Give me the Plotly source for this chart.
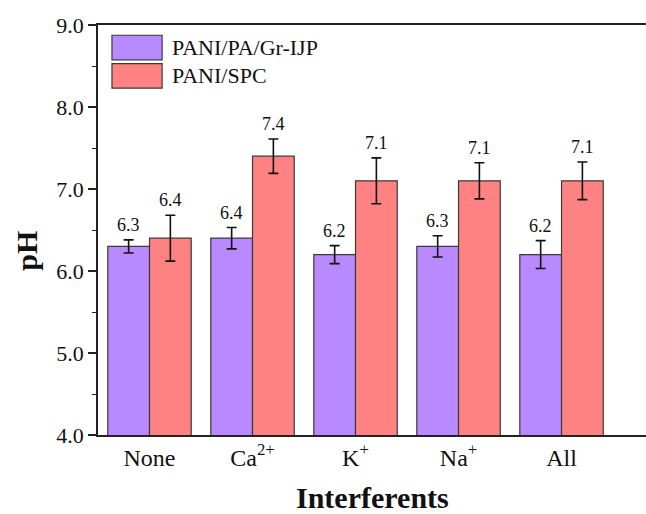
import plotly.graph_objects as go

categories = ["None", "Ca<sup>2+</sup>", "K<sup>+</sup>", "Na<sup>+</sup>", "All"]
series_names = ["PANI/PA/Gr-IJP", "PANI/SPC"]
ijp_values = [6.3, 6.4, 6.2, 6.3, 6.2]
ijp_errors = [0.08, 0.13, 0.11, 0.13, 0.17]
spc_values = [6.4, 7.4, 7.1, 7.1, 7.1]
spc_errors = [0.28, 0.21, 0.28, 0.22, 0.23]
y_ticks = [4.0, 5.0, 6.0, 7.0, 8.0, 9.0]

colors = ["#B98AFF", "#FF8282"]
font_family = "Liberation Serif"
text_color = "#111111"

fig = go.Figure()
for name, vals, errs, col in [(series_names[0], ijp_values, ijp_errors, colors[0]),
                              (series_names[1], spc_values, spc_errors, colors[1])]:
    fig.add_trace(go.Bar(
        x=list(range(len(categories))), y=vals, name=name,
        marker=dict(color=col, line=dict(color="#3a3a3a", width=1.2)),
        error_y=dict(type="data", array=errs, visible=True, color="#111111",
                     thickness=1.6, width=5),
        showlegend=False,
    ))

# value labels above error bars
offsets = [-0.205, 0.205]
for k, (vals, errs) in enumerate([(ijp_values, ijp_errors), (spc_values, spc_errors)]):
    for i, (v, e) in enumerate(zip(vals, errs)):
        fig.add_annotation(x=i + offsets[k], y=v + e, text=f"{v:.1f}", showarrow=False,
                           yanchor="bottom", yshift=3,
                           font=dict(family=font_family, size=18, color=text_color))

# custom legend
leg_y = [0.945, 0.876]
for k in range(2):
    fig.add_shape(type="rect", xref="paper", yref="paper",
                  x0=0.0255, x1=0.117, y0=leg_y[k] - 0.030, y1=leg_y[k] + 0.030,
                  fillcolor=colors[k], line=dict(color="#3a3a3a", width=1.2))
    fig.add_annotation(xref="paper", yref="paper", x=0.131, y=leg_y[k],
                       text=series_names[k], showarrow=False, xanchor="left",
                       yanchor="middle",
                       font=dict(family=font_family, size=22, color=text_color))

# axis titles
fig.add_annotation(xref="paper", yref="paper", x=0.5, y=-0.153, text="<b>Interferents</b>",
                   showarrow=False, xanchor="center", yanchor="middle",
                   font=dict(family=font_family, size=30, color=text_color))
fig.add_annotation(xref="paper", yref="paper", x=-0.131, y=0.45, text="<b>pH</b>",
                   showarrow=False, xanchor="center", yanchor="middle", textangle=-90,
                   font=dict(family=font_family, size=30, color=text_color))

fig.update_layout(
    width=646, height=514,
    margin=dict(l=98, r=0, t=25, b=79, autoexpand=False),
    paper_bgcolor="white", plot_bgcolor="white",
    barmode="group", bargap=0.19, bargroupgap=0.0,
    font=dict(family=font_family, color=text_color),
)
fig.update_xaxes(
    range=[-0.5, 4.82], tickmode="array", tickvals=list(range(len(categories))),
    ticktext=categories, ticks="", showline=True, linecolor="#222222", linewidth=1.5,
    mirror=True, showgrid=False, zeroline=False,
    tickfont=dict(family=font_family, size=24, color=text_color),
)
fig.update_yaxes(
    range=[4.0, 9.0], tickmode="array", tickvals=y_ticks,
    ticktext=[f"{t:.1f}" for t in y_ticks], ticks="outside", ticklen=8, tickwidth=1.5,
    tickcolor="#222222",
    minor=dict(dtick=0.5, ticks="outside", ticklen=4, tickwidth=1.2, tickcolor="#222222"),
    showline=True, linecolor="#222222", linewidth=1.5, mirror=True,
    showgrid=False, zeroline=False,
    tickfont=dict(family=font_family, size=22, color=text_color),
)

fig.write_html("out.html", config={"displayModeBar": False},
               post_script="document.body.style.margin='0';")
